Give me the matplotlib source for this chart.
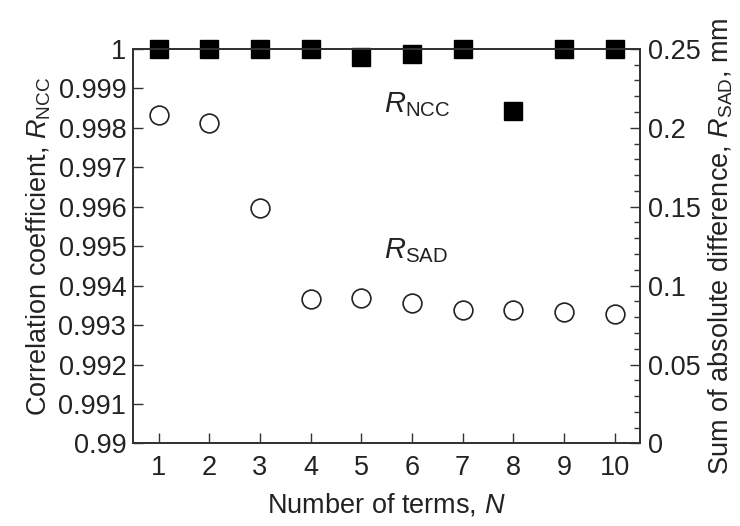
import matplotlib
matplotlib.use('Agg')
import matplotlib.pyplot as plt
from matplotlib.ticker import MultipleLocator

# Data
terms = [1, 2, 3, 4, 5, 6, 7, 8, 9, 10]
r_ncc = [1.0, 1.0, 1.0, 1.0, 0.9998, 0.99987, 1.0, 0.99843, 1.0, 1.0]
r_sad = [0.208, 0.203, 0.149, 0.0913, 0.0919, 0.0891, 0.0845, 0.0845, 0.0831, 0.0818]

ncc_ticks = [0.99, 0.991, 0.992, 0.993, 0.994, 0.995, 0.996, 0.997, 0.998, 0.999, 1.0]
ncc_labels = ['0.99', '0.991', '0.992', '0.993', '0.994', '0.995', '0.996',
              '0.997', '0.998', '0.999', '1']
sad_ticks = [0, 0.05, 0.1, 0.15, 0.2, 0.25]
sad_labels = ['0', '0.05', '0.1', '0.15', '0.2', '0.25']

# Style
plt.rcParams['font.family'] = ['Liberation Sans', 'DejaVu Sans']
plt.rcParams['mathtext.fontset'] = 'custom'
plt.rcParams['mathtext.rm'] = 'Liberation Sans'
plt.rcParams['mathtext.it'] = 'Liberation Sans:italic'
plt.rcParams['font.size'] = 19
plt.rcParams['text.color'] = '#222222'
plt.rcParams['axes.labelcolor'] = '#222222'
plt.rcParams['xtick.color'] = '#333333'
plt.rcParams['ytick.color'] = '#333333'
plt.rcParams['xtick.labelcolor'] = '#222222'
plt.rcParams['ytick.labelcolor'] = '#222222'

fs = 19.5

fig = plt.figure(figsize=(7.4, 5.26), dpi=100)
ax = fig.add_axes([0.18, 0.157, 0.685, 0.75])
ax2 = ax.twinx()

# R_NCC squares on left axis
ax.plot(terms, r_ncc, linestyle='none', marker='s', markersize=13,
        color='black', clip_on=False, zorder=5)
# R_SAD open circles on right axis
ax2.plot(terms, r_sad, linestyle='none', marker='o', markersize=13.5,
         markerfacecolor='white', markeredgecolor='#222222',
         markeredgewidth=1.2, clip_on=False)

ax.set_xlim(0.5, 10.5)
ax.set_ylim(0.99, 1.0)
ax2.set_ylim(0, 0.25)

ax.set_xticks(terms)
ax.set_yticks(ncc_ticks)
ax.set_yticklabels(ncc_labels)
ax2.set_yticks(sad_ticks)
ax2.set_yticklabels(sad_labels)
ax2.yaxis.set_minor_locator(MultipleLocator(0.01))

ax.tick_params(axis='both', which='major', direction='in', length=7, width=1,
               labelsize=fs, pad=5)
ax.tick_params(axis='x', top=False, pad=8)
ax.tick_params(axis='y', right=False)
ax2.tick_params(axis='y', which='major', direction='in', length=7, width=1,
                labelsize=fs, pad=6)
ax2.tick_params(axis='y', which='minor', direction='in', length=4, width=1)

for a in (ax, ax2):
    for s in a.spines.values():
        s.set_linewidth(1.3)
        s.set_color('#333333')

ax.set_xlabel('Number of terms, $\\it{N}$', fontsize=fs, labelpad=8)
ax.set_ylabel('Correlation coefficient, $\\it{R}_{\\mathrm{NCC}}$', fontsize=fs, labelpad=4)
ax2.set_ylabel('Sum of absolute difference, $\\it{R}_{\\mathrm{SAD}}$, mm', fontsize=fs,
               labelpad=4)

ax.text(5.45, 0.9984, '$\\it{R}_{\\mathrm{NCC}}$', fontsize=21, ha='left', va='baseline')
ax.text(5.45, 0.9947, '$\\it{R}_{\\mathrm{SAD}}$', fontsize=21, ha='left', va='baseline')

fig.savefig('out.png', dpi=100)
